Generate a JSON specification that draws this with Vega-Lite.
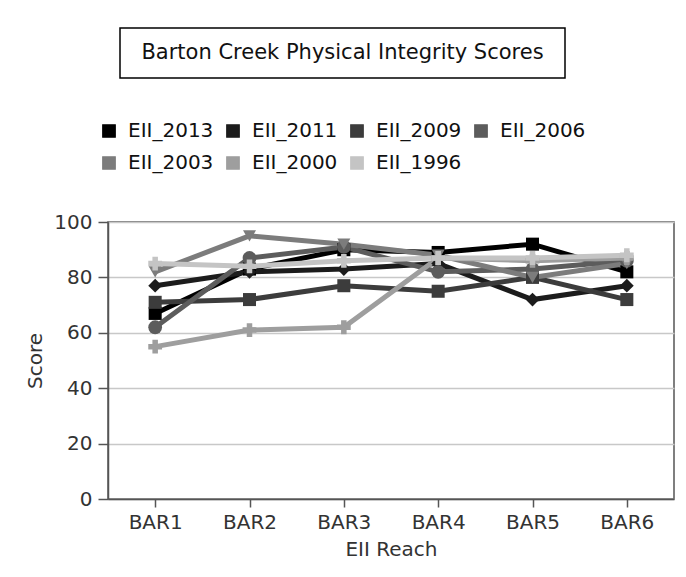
{
  "$schema": "https://vega.github.io/schema/vega-lite/v6.json",
  "padding": {"top": 27, "left": 25, "right": 0, "bottom": 0},
  "background": "white",
  "config": {
    "font": "DejaVu Sans",
    "concat": {"spacing": 41},
    "axis": {"labelFont": "DejaVu Sans", "titleFont": "DejaVu Sans", "labelFontSize": 20, "titleFontSize": 20, "titleFontWeight": "normal", "labelColor": "#333", "titleColor": "#333", "domainColor": "#555", "tickColor": "#555", "domainWidth": 1.5, "tickWidth": 1.5}
  },
  "resolve": {"legend": {"color": "independent"}},
  "datasets": {
    "scores": [
      {"series": "EII_2013", "reach": "BAR1", "score": 67},
      {"series": "EII_2013", "reach": "BAR2", "score": 83},
      {"series": "EII_2013", "reach": "BAR3", "score": 90},
      {"series": "EII_2013", "reach": "BAR4", "score": 89},
      {"series": "EII_2013", "reach": "BAR5", "score": 92},
      {"series": "EII_2013", "reach": "BAR6", "score": 82},
      {"series": "EII_2011", "reach": "BAR1", "score": 77},
      {"series": "EII_2011", "reach": "BAR2", "score": 82},
      {"series": "EII_2011", "reach": "BAR3", "score": 83},
      {"series": "EII_2011", "reach": "BAR4", "score": 85},
      {"series": "EII_2011", "reach": "BAR5", "score": 72},
      {"series": "EII_2011", "reach": "BAR6", "score": 77},
      {"series": "EII_2009", "reach": "BAR1", "score": 71},
      {"series": "EII_2009", "reach": "BAR2", "score": 72},
      {"series": "EII_2009", "reach": "BAR3", "score": 77},
      {"series": "EII_2009", "reach": "BAR4", "score": 75},
      {"series": "EII_2009", "reach": "BAR5", "score": 80},
      {"series": "EII_2009", "reach": "BAR6", "score": 72},
      {"series": "EII_2006", "reach": "BAR1", "score": 62},
      {"series": "EII_2006", "reach": "BAR2", "score": 87},
      {"series": "EII_2006", "reach": "BAR3", "score": 91},
      {"series": "EII_2006", "reach": "BAR4", "score": 82},
      {"series": "EII_2006", "reach": "BAR5", "score": 83},
      {"series": "EII_2006", "reach": "BAR6", "score": 86},
      {"series": "EII_2003", "reach": "BAR1", "score": 82},
      {"series": "EII_2003", "reach": "BAR2", "score": 95},
      {"series": "EII_2003", "reach": "BAR3", "score": 92},
      {"series": "EII_2003", "reach": "BAR4", "score": 88},
      {"series": "EII_2003", "reach": "BAR5", "score": 80},
      {"series": "EII_2003", "reach": "BAR6", "score": 85},
      {"series": "EII_2000", "reach": "BAR1", "score": 55},
      {"series": "EII_2000", "reach": "BAR2", "score": 61},
      {"series": "EII_2000", "reach": "BAR3", "score": 62},
      {"series": "EII_2000", "reach": "BAR4", "score": 87},
      {"series": "EII_2000", "reach": "BAR5", "score": 86},
      {"series": "EII_2000", "reach": "BAR6", "score": 87},
      {"series": "EII_1996", "reach": "BAR1", "score": 85},
      {"series": "EII_1996", "reach": "BAR2", "score": 84},
      {"series": "EII_1996", "reach": "BAR3", "score": 86},
      {"series": "EII_1996", "reach": "BAR4", "score": 87},
      {"series": "EII_1996", "reach": "BAR5", "score": 87},
      {"series": "EII_1996", "reach": "BAR6", "score": 88}
    ]
  },
  "vconcat": [
    {
      "spacing": 0,
      "hconcat": [
        {
          "width": 11,
          "height": 50,
          "view": {"stroke": null},
          "data": {"values": [{"label": ""}]},
          "mark": {"type": "text"},
          "encoding": {"text": {"field": "label"}}
        },
        {
          "width": 445,
          "height": 50,
          "view": {"stroke": "#000", "strokeWidth": 1.5, "fill": "white"},
          "data": {"values": [{"label": "Barton Creek Physical Integrity Scores"}]},
          "mark": {"type": "text", "fontSize": 21, "color": "#111", "font": "DejaVu Sans"},
          "encoding": {"text": {"field": "label"}}
        }
      ]
    },
    {
      "width": 566,
      "height": 277,
      "view": {"stroke": "#555", "strokeWidth": 1.5},
      "data": {"name": "scores"},
      "encoding": {
        "x": {"field": "reach", "type": "nominal", "scale": {"type": "point", "padding": 0.5},
              "axis": {"title": "EII Reach", "labelAngle": 0, "tickSize": 8, "labelPadding": 5, "titlePadding": 7, "grid": false}},
        "y": {"field": "score", "type": "quantitative", "scale": {"domain": [0, 100]},
              "axis": {"title": "Score", "values": [0, 20, 40, 60, 80, 100], "tickSize": 10, "labelPadding": 6, "titlePadding": 8, "grid": true, "gridColor": "#c8c8c8", "gridWidth": 1.5}},
        "color": {"field": "series", "type": "nominal",
                  "scale": {"domain": ["EII_2013", "EII_2011", "EII_2009", "EII_2006", "EII_2003", "EII_2000", "EII_1996"],
                            "range": ["#000000", "#1c1c1c", "#3c3c3c", "#5c5c5c", "#7c7c7c", "#9e9e9e", "#c4c4c4"]},
                  "legend": {"title": null, "orient": "none", "legendX": -9, "legendY": -101, "columns": 4, "direction": "horizontal",
                             "symbolType": "square", "symbolSize": 150, "symbolStrokeWidth": 1.5, "symbolStrokeColor": "#222",
                             "labelFontSize": 20, "labelFont": "DejaVu Sans", "labelColor": "#111", "labelOffset": 9,
                             "columnPadding": 9, "rowPadding": 12, "padding": 0, "symbolOpacity": 1,
                             "encode": {"symbols": {"update": {"fill": {"scale": "color", "field": "value"}, "stroke": {"value": "#222"}, "opacity": {"value": 1}}}}}}
      },
      "layer": [
        {"mark": {"type": "line", "strokeWidth": 5}},
        {"transform": [{"filter": {"field": "series", "oneOf": ["EII_2013", "EII_2009"]}}],
         "mark": {"type": "point", "filled": true, "size": 170, "opacity": 1, "shape": "square"}},
        {"transform": [{"filter": {"field": "series", "oneOf": ["EII_2011"]}}],
         "mark": {"type": "point", "filled": true, "size": 190, "opacity": 1, "shape": "diamond"}},
        {"transform": [{"filter": {"field": "series", "oneOf": ["EII_2006"]}}],
         "mark": {"type": "point", "filled": true, "size": 190, "opacity": 1, "shape": "circle"}},
        {"transform": [{"filter": {"field": "series", "oneOf": ["EII_2003"]}}],
         "mark": {"type": "point", "filled": true, "size": 170, "opacity": 1, "shape": "triangle-down"}},
        {"transform": [{"filter": {"field": "series", "oneOf": ["EII_2000", "EII_1996"]}}],
         "mark": {"type": "point", "filled": true, "size": 190, "opacity": 1, "shape": "cross"}}
      ]
    }
  ]
}
